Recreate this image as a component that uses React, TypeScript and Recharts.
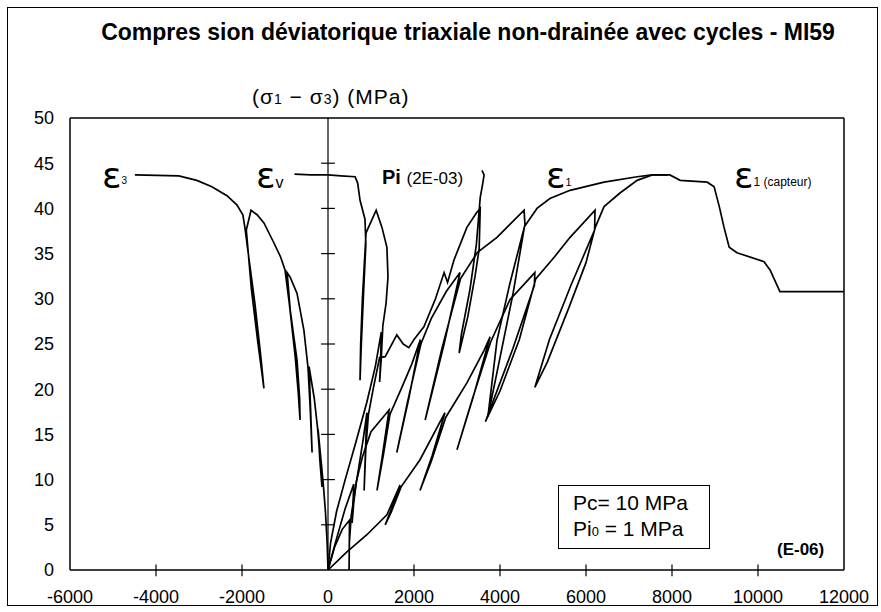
import React from 'react';
import { LineChart, Line, XAxis, YAxis, ReferenceLine } from 'recharts';

type Pt = [number, number];

const xTicks = [-6000, -4000, -2000, 0, 2000, 4000, 6000, 8000, 10000, 12000];
const yTicks = [0, 5, 10, 15, 20, 25, 30, 35, 40, 45, 50];

// lateral strain (epsilon 3), in E-06 / MPa
const eps3: Pt[] = [
  [0, 0], [-20, 3], [-60, 6.5], [-110, 9.5], [-170, 12.5], [-230, 15.5], [-190, 12.2], [-140, 9.2],
  [-185, 12.5], [-245, 15.8], [-320, 19], [-440, 22.5], [-405, 17.8], [-370, 13], [-415, 18],
  [-465, 22.4], [-560, 26.5], [-720, 30.6], [-880, 32.4], [-950, 32.9], [-880, 28.8], [-720, 23.2],
  [-660, 19], [-650, 16.6], [-690, 19.5], [-760, 23.5], [-900, 29.5], [-1000, 33.2], [-1100, 34.6],
  [-1260, 36.2], [-1490, 38.4], [-1650, 39.3], [-1790, 39.8], [-1900, 37.6], [-1780, 31],
  [-1640, 25.5], [-1490, 20.1], [-1560, 23.5], [-1700, 29.5], [-1840, 34.5], [-1930, 37.8],
  [-1980, 39.3], [-2120, 40.4], [-2350, 41.4], [-2700, 42.4], [-3050, 43.1], [-3470, 43.6], [-4490, 43.7],
];

// volumetric strain
const epsV: Pt[] = [
  [0, 0], [60, 3], [200, 6.5], [400, 10], [640, 14], [900, 18.5], [1100, 22.5], [1240, 26.3],
  [1225, 23.5], [1200, 20.8], [1240, 23.5], [1275, 27], [1350, 29.5], [1395, 32.4], [1370, 35.7],
  [1255, 37.9], [1120, 39.8], [885, 37.3], [800, 30], [760, 25], [745, 21], [775, 25], [830, 31],
  [880, 36], [860, 38.8], [745, 40.9], [690, 42.8], [630, 43.5], [300, 43.6], [0, 43.7], [-400, 43.7],
  [-780, 43.8],
];

// interstitial pressure Pi (2E-03)
const pi: Pt[] = [
  [0, 0], [150, 2.5], [330, 4.5], [500, 5.5], [495, 2.5], [490, 0], [497, 3], [540, 6], [620, 8.5],
  [720, 11.5], [820, 14.5], [905, 17.4], [870, 13], [840, 8.8], [880, 13.5], [940, 17.2], [1050, 20],
  [1200, 23.5], [1330, 23.6], [1600, 26], [1750, 25], [1880, 24.6], [2000, 25.5], [2230, 26.9],
  [2500, 30], [2700, 32.9], [2780, 31.8], [2930, 34.3], [3230, 37.9], [3450, 39.5], [3540, 40],
  [3515, 35.5], [3420, 32.5], [3250, 28], [3050, 24], [3100, 26], [3300, 31], [3450, 36],
  [3540, 41.2], [3600, 42.8], [3630, 43.7], [3580, 44.2],
];

// axial strain (local)
const eps1: Pt[] = [
  [0, 0], [200, 3.5], [400, 6.8], [600, 9.5], [580, 7.2], [560, 5.2], [600, 7.5], [660, 9.8],
  [800, 12.5], [1000, 15.3], [1420, 17.7], [1260, 12.5], [1140, 8.8], [1290, 12.8], [1440, 17.2],
  [1700, 20], [1950, 22.8], [2150, 25.5], [1880, 19], [1600, 13], [1860, 18.8], [2160, 25],
  [2400, 27.8], [2750, 30.8], [3070, 32.9], [2700, 25], [2260, 16.6], [2650, 24.5], [3080, 32.2],
  [3470, 35.1], [3930, 36.8], [4560, 39.8], [4580, 38.2], [4230, 31.7], [3930, 25.4], [3720, 17],
  [4000, 23.5], [4300, 30.5], [4570, 38], [4860, 40], [5160, 41.1], [5630, 42], [6420, 42.9],
  [7190, 43.5], [7540, 43.7], [7900, 43.7],
];

// axial strain (capteur)
const eps1Capteur: Pt[] = [
  [0, 0], [440, 2], [905, 3.9], [1370, 6.1], [1675, 9.4], [1480, 6.8], [1330, 5], [1470, 6.4],
  [1700, 9.2], [2140, 12.2], [2720, 17.4], [2420, 12.6], [2140, 8.8], [2400, 12], [2740, 16.9],
  [3230, 20.7], [3630, 24.3], [3770, 25.8], [3380, 19.2], [3000, 13.3], [3350, 18.8], [3780, 25.2],
  [4230, 29.9], [4810, 32.9], [4800, 31.5], [4300, 24.5], [3660, 16.4], [4000, 19.8], [4450, 25.5],
  [4830, 32.2], [5260, 34.6], [5630, 36.8], [6210, 39.8], [6200, 37.6], [5650, 31.5], [5150, 25.5],
  [4810, 20.2], [5100, 23], [5600, 29], [6000, 34], [6215, 37.9], [6420, 40.2], [6790, 41.7],
  [7190, 43.1], [7540, 43.7], [7950, 43.7], [8190, 43.1], [8820, 42.9], [8980, 42.4], [9100, 40.2],
  [9210, 37.9], [9330, 35.7], [9510, 35.1], [10140, 34.1], [10280, 33.2], [10510, 30.8], [12000, 30.8],
];

const series = [eps3, epsV, pi, eps1, eps1Capteur];
const toRows = (pts: Pt[]) => pts.map(([x, y]) => ({ x, y }));

const font = "'Liberation Sans', Arial, sans-serif";
const epsFont = "'DejaVu Sans', sans-serif";

const abs = (left: number, top: number, extra: React.CSSProperties = {}): React.CSSProperties => ({
  position: 'absolute', left, top, whiteSpace: 'nowrap', lineHeight: 1, color: '#000', ...extra,
});

const Eps: React.FC<{ left: number; sub: string; subSize?: number; raise?: number }> = ({ left, sub, subSize = 11, raise = 4 }) => (
  <div style={abs(left, 158, { fontFamily: epsFont, fontSize: 36 })}>
    ε<span style={{ fontFamily: font, fontSize: subSize, position: 'relative', top: -raise }}>{sub}</span>
  </div>
);

const App: React.FC = () => {
  const tickStyle = { fill: '#000', fontSize: 18, fontFamily: font };
  return (
    <div style={{ position: 'absolute', left: 0, top: 0, width: 881, height: 612, background: '#fff', fontFamily: font }}>
      <div style={{ position: 'absolute', left: 7, top: 7, width: 871, height: 599, border: '1px solid #000', boxSizing: 'border-box' }} />
      <div style={{ position: 'absolute', left: 0, top: 0 }}>
        <LineChart width={881} height={612} margin={{ top: 118, right: 37, left: 0, bottom: 0 }}>
          <XAxis
            type="number" dataKey="x" domain={[-6000, 12000]} ticks={xTicks} interval={0}
            allowDataOverflow height={42} tickLine={false} tickSize={0} tickMargin={20}
            axisLine={{ stroke: '#000', strokeWidth: 1.5 }} tick={tickStyle}
          />
          <YAxis
            type="number" domain={[0, 50]} ticks={yTicks} interval={0} allowDataOverflow width={70}
            tickLine={false} tickSize={0} tickMargin={16}
            axisLine={{ stroke: '#000', strokeWidth: 1.5 }} tick={tickStyle}
          />
          <ReferenceLine y={50} stroke="#000" strokeWidth={1.5} />
          <ReferenceLine x={12000} stroke="#000" strokeWidth={1.5} />
          <ReferenceLine x={0} stroke="#000" strokeWidth={1.2} />
          {yTicks.slice(1, -1).map((t) => (
            <ReferenceLine key={'yt' + t} segment={[{ x: -160, y: t }, { x: 160, y: t }]} stroke="#000" strokeWidth={1.2} ifOverflow="visible" />
          ))}
          {xTicks.slice(1, -1).filter((t) => t !== 0).map((t) => (
            <ReferenceLine key={'xt' + t} segment={[{ x: t, y: -0.7 }, { x: t, y: 0.6 }]} stroke="#000" strokeWidth={1.2} ifOverflow="visible" />
          ))}
          {series.map((s, i) => (
            <Line
              key={i} data={toRows(s)} dataKey="y" type="linear" stroke="#000" strokeWidth={1.7}
              dot={false} activeDot={false} isAnimationActive={false}
            />
          ))}
        </LineChart>
      </div>

      <div style={abs(468, 21, { fontSize: 23, fontWeight: 'bold', transform: 'translateX(-50%)' })}>
        Compres sion déviatorique triaxiale non-drainée avec cycles - MI59
      </div>
      <div style={abs(252, 86, { fontSize: 21, letterSpacing: 1 })}>
        (σ<span style={{ fontSize: 14 }}>1</span> − σ<span style={{ fontSize: 14 }}>3</span>) (MPa)
      </div>

      <Eps left={102} sub="3" subSize={10} />
      <Eps left={256} sub="v" subSize={16} raise={0} />
      <Eps left={546} sub="1" subSize={11} raise={2} />
      <Eps left={734} sub="1 (capteur)" subSize={12} raise={2} />

      <div style={abs(382, 167, { fontSize: 20 })}>
        <b>Pi</b> <span style={{ fontSize: 17 }}>(2E-03)</span>
      </div>

      <div style={{ position: 'absolute', left: 558, top: 485, width: 152, height: 64, border: '1.5px solid #000', boxSizing: 'border-box', background: '#fff', fontSize: 21, lineHeight: '26px', paddingLeft: 14, paddingTop: 4 }}>
        <div>Pc= 10 MPa</div>
        <div>Pi<span style={{ fontSize: 13 }}>0</span> = 1 MPa</div>
      </div>
      <div style={abs(777, 541, { fontSize: 17, fontWeight: 'bold' })}>(E-06)</div>
    </div>
  );
};

export default App;
